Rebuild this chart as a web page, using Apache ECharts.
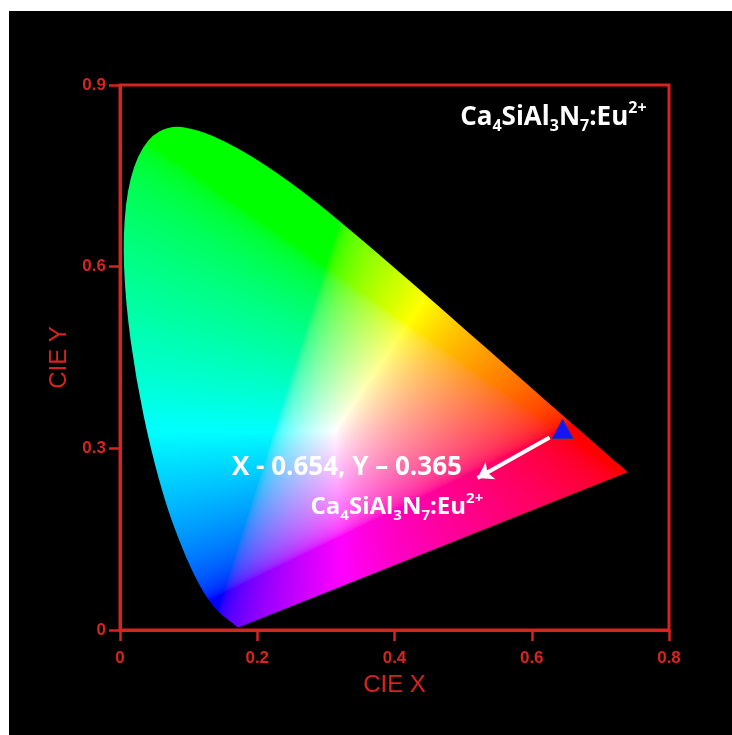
<!DOCTYPE html>
<html><head><meta charset="utf-8">
<script src="https://cdn.jsdelivr.net/npm/echarts@6/dist/echarts.min.js"></script>
<style>
html,body{margin:0;padding:0;background:#fff;width:732px;height:735px;overflow:hidden}
#c{position:absolute;left:9px;top:11px;width:723px;height:724px;background:#000}
</style></head><body><div id="c"></div>
<script>
// Spectral locus (CIE 1931 chromaticity boundary), x and y
const locusX = [0.1741,0.1738,0.1733,0.1726,0.1714,0.1703,0.1689,0.1669,0.1644,0.1611,0.1566,0.1510,0.1440,0.1355,0.1241,0.1096,0.0913,0.0687,0.0454,0.0235,0.0082,0.0039,0.0139,0.0389,0.0743,0.1142,0.1547,0.1929,0.2296,0.2658,0.3016,0.3373,0.3731,0.4087,0.4441,0.4788,0.5125,0.5448,0.5752,0.6029,0.6270,0.6482,0.6658,0.6801,0.6915,0.7006,0.7079,0.7140,0.7190,0.7230,0.7270,0.7310,0.7350,0.7395];
const locusY = [0.0050,0.0049,0.0048,0.0048,0.0051,0.0058,0.0069,0.0086,0.0109,0.0138,0.0177,0.0227,0.0297,0.0399,0.0578,0.0868,0.1327,0.2007,0.2950,0.4127,0.5384,0.6548,0.7502,0.8120,0.8338,0.8262,0.8059,0.7816,0.7543,0.7243,0.6923,0.6589,0.6245,0.5896,0.5547,0.5202,0.4866,0.4544,0.4242,0.3965,0.3725,0.3514,0.3340,0.3197,0.3083,0.2993,0.2920,0.2859,0.2809,0.2770,0.2735,0.2700,0.2660,0.2605];

const xTickLabels = ['0','0.2','0.4','0.6','0.8'];
const yTickLabels = ['0','0.3','0.6','0.9'];

// Sample colour point and annotation arrow
const sampleX = [0.645];
const sampleY = [0.332];
const arrowFrom = [0.626, 0.318];
const arrowTo = [0.521, 0.251];

// Annotations
const annoText = ['X - 0.654, Y \u2013 0.365', 'Ca{s|4}SiAl{s|3}N{s|7}:Eu{p|2+}', 'Ca{t|4}SiAl{t|3}N{t|7}:Eu{q|2+}'];
const annoX = [0.3307, 0.4035, 0.6315];
const annoY = [0.2675, 0.203, 0.847];

const RED = '#d8231f';
const FONT = 'Open Sans';

function gammaC(v){ return v <= 0.0031308 ? 12.92*v : 1.055*Math.pow(v,1/2.4)-0.055; }

function renderLocus(params, api){
  const p0 = api.coord([0,0]);
  const p1 = api.coord([0.8,0.9]);
  const pts = locusX.map((x,i)=>api.coord([x, locusY[i]]));
  let minX=Infinity,minY=Infinity,maxX=-Infinity,maxY=-Infinity;
  pts.forEach(p=>{minX=Math.min(minX,p[0]);minY=Math.min(minY,p[1]);maxX=Math.max(maxX,p[0]);maxY=Math.max(maxY,p[1]);});
  const bx = Math.floor(minX)-1, by = Math.floor(minY)-1;
  const w = Math.ceil(maxX)-bx+2, h = Math.ceil(maxY)-by+2;
  const cv = document.createElement('canvas');
  cv.width = w; cv.height = h;
  const ctx = cv.getContext('2d');
  const img = ctx.createImageData(w,h);
  const d = img.data;
  for (let j=0;j<h;j++){
    for (let i=0;i<w;i++){
      const px = bx+i+0.5, py = by+j+0.5;
      const x = (px-p0[0])/(p1[0]-p0[0])*0.8;
      let y = (py-p0[1])/(p1[1]-p0[1])*0.9;
      if (y < 0.002) y = 0.002;
      const X = x/y, Y = 1, Z = (1-x-y)/y;
      let r = 3.2406*X - 1.5372*Y - 0.4986*Z;
      let g = -0.9689*X + 1.8758*Y + 0.0415*Z;
      let b = 0.0557*X - 0.2040*Y + 1.0570*Z;
      r = Math.max(0,r); g = Math.max(0,g); b = Math.max(0,b);
      const m = Math.max(r,g,b) || 1;
      const k = (j*w+i)*4;
      d[k] = Math.round(255*gammaC(r/m));
      d[k+1] = Math.round(255*gammaC(g/m));
      d[k+2] = Math.round(255*gammaC(b/m));
      d[k+3] = 255;
    }
  }
  ctx.putImageData(img,0,0);
  ctx.globalCompositeOperation = 'destination-in';
  const q = pts.map(p=>[p[0]-bx, p[1]-by]);
  const n = q.length;
  ctx.beginPath();
  ctx.moveTo(q[0][0], q[0][1]);
  for (let k=1;k<n-1;k++){
    const mx = (q[k][0]+q[k+1][0])/2, my = (q[k][1]+q[k+1][1])/2;
    if (k===n-2) ctx.quadraticCurveTo(q[k][0],q[k][1],q[n-1][0],q[n-1][1]);
    else ctx.quadraticCurveTo(q[k][0],q[k][1],mx,my);
  }
  ctx.closePath();
  ctx.fillStyle = '#000';
  ctx.fill();
  return {type:'image', silent:true, style:{image:cv, x:bx, y:by, width:w, height:h}};
}

const chart = echarts.init(document.getElementById('c'), null, {renderer:'canvas'});
function subSup(size, lh){
  return {
    s:{fontSize:size, fontWeight:'bold', fontFamily:FONT, color:'#fff', verticalAlign:'bottom', lineHeight:lh, textBorderWidth:0},
    p:{fontSize:size, fontWeight:'bold', fontFamily:FONT, color:'#fff', verticalAlign:'top', lineHeight:lh, textBorderWidth:0}
  };
}
const r2 = subSup(15, 32), r3 = subSup(16, 34);
const richStyles = {s:r2.s, p:r2.p, t:r3.s, q:r3.p};
const annoSizes = [26, 24, 26];
chart.setOption({
  animation:false,
  backgroundColor:'#000',
  grid:{left:111, top:74, right:63, bottom:105, show:true, borderColor:RED, borderWidth:3, backgroundColor:'transparent'},
  xAxis:{type:'value', min:0, max:0.8, interval:0.2,
    name:'CIE X', nameLocation:'middle', nameGap:43,
    nameTextStyle:{color:RED, fontSize:24, fontFamily:'Liberation Sans'},
    axisLine:{show:true, onZero:false, lineStyle:{color:RED, width:3}},
    axisTick:{show:true, length:11, lineStyle:{color:RED, width:2.5}},
    axisLabel:{color:RED, fontSize:17, fontWeight:'bold', fontFamily:'Liberation Sans', margin:20,
      formatter:(v)=>xTickLabels[Math.round(v/0.2)]},
    splitLine:{show:false}},
  yAxis:{type:'value', min:0, max:0.9, interval:0.3,
    name:'CIE Y', nameLocation:'middle', nameGap:38, nameRotate:90,
    nameTextStyle:{color:RED, fontSize:24, fontFamily:'Liberation Sans'},
    axisLine:{show:true, onZero:false, lineStyle:{color:RED, width:3}},
    axisTick:{show:true, length:11, lineStyle:{color:RED, width:2.5}},
    axisLabel:{color:RED, fontSize:17, fontWeight:'bold', fontFamily:'Liberation Sans', margin:14,
      formatter:(v)=>yTickLabels[Math.round(v/0.3)]},
    splitLine:{show:false}},
  series:[
    {type:'custom', coordinateSystem:'cartesian2d', data:[[0,0]], renderItem:renderLocus, silent:true, z:1, clip:false},
    {type:'lines', coordinateSystem:'cartesian2d', silent:true, z:5,
      symbol:['none','arrow'], symbolSize:15,
      lineStyle:{color:'#fff', width:4, opacity:1},
      data:[{coords:[arrowFrom, arrowTo]}]},
    {type:'scatter', silent:true, z:6, symbol:'triangle', symbolSize:[21,19],
      itemStyle:{color:'#1414f5', borderColor:'#303098', borderWidth:1, opacity:1},
      data:sampleX.map((x,i)=>[x, sampleY[i]])},
    {type:'scatter', silent:true, z:7, symbolSize:0, itemStyle:{opacity:0},
      data:annoX.map((x,i)=>({value:[x, annoY[i]], label:{
        show:true, position:'inside', align:'center', verticalAlign:'middle',
        formatter:annoText[i], color:'#ffffff', fontWeight:'bold', fontFamily:FONT, fontSize:annoSizes[i],
        textBorderWidth:0, textShadowBlur:0, opacity:1,
        lineHeight:32, rich:richStyles}}))}
  ]
});
</script></body></html>
